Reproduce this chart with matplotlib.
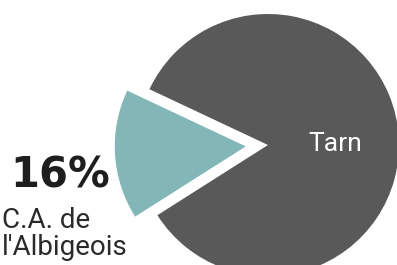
import matplotlib
matplotlib.use("Agg")
import matplotlib.pyplot as plt

# data
labels = ["C.A. de\nl'Albigeois", "Tarn"]
shares = [16, 84]
colors = ["#83b6b7", "#595959"]
explode = [0.17, 0]

narrow = ["Roboto", "DejaVu Sans"]

fig = plt.figure(figsize=(3.97, 2.65), dpi=100)
ax = fig.add_axes([0, 0, 1, 1])

wedges, _ = ax.pie(shares, colors=colors, explode=explode, startangle=154.8,
                   counterclock=True, radius=1.0,
                   wedgeprops=dict(linewidth=0))

# place the pie center at ~ (268, 145) px, radius ~131 px
scale = 131.0
ax.set_xlim(-268 / scale, (397 - 268) / scale)
ax.set_ylim(-120 / scale, 145 / scale)
ax.set_aspect("auto")
ax.axis("off")

ax.text(0.51, 0.01, labels[1], color="white", fontsize=19,
        family=narrow, ha="center", va="center")

ax.text(-1.97, -0.23, f"{shares[0]}%", color="#1e1e1e", fontsize=30,
        fontweight="heavy", ha="left", va="center")
ax.text(-2.03, -0.475, labels[0], color="#2a2a2a", fontsize=20,
        family=narrow, ha="left", va="top", linespacing=1.0)

fig.savefig("out.png", dpi=100)
